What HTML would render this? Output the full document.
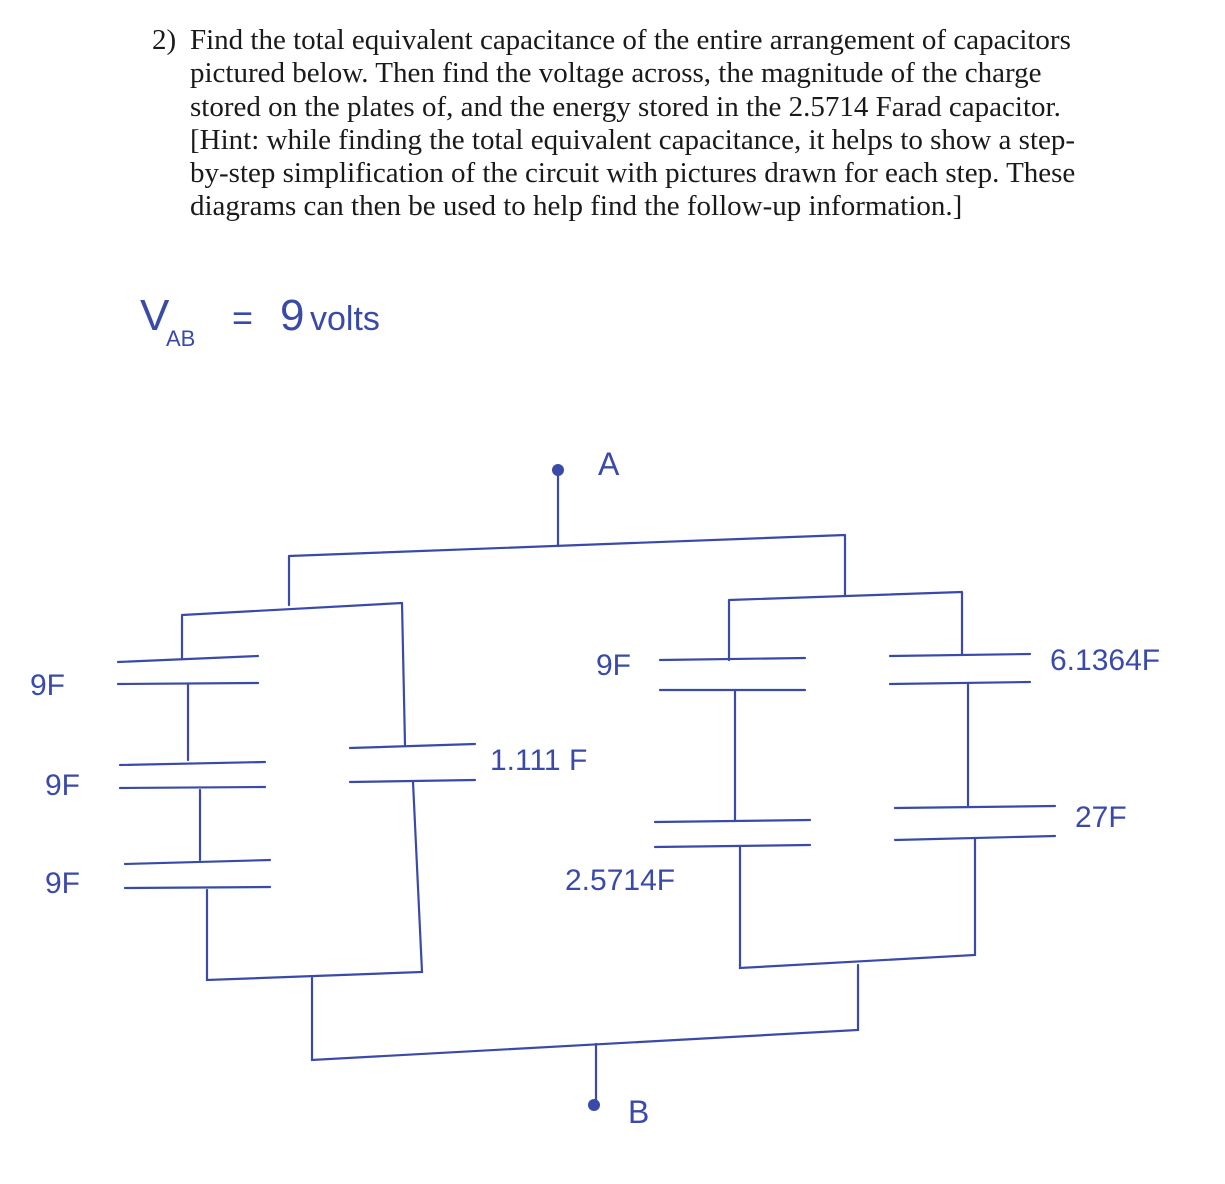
<!DOCTYPE html>
<html><head><meta charset="utf-8"><style>
html,body{margin:0;padding:0;background:#fff;}
body{width:1225px;height:1184px;position:relative;overflow:hidden;}
.q{position:absolute;left:152px;top:24px;font-family:"Liberation Serif",serif;font-size:29px;line-height:33.3px;color:#1a1a1a;}
.q .n{position:absolute;left:0;top:0;}
.q .t{margin-left:38px;width:960px;white-space:nowrap;}
svg{position:absolute;left:0;top:0;}
svg text{font-family:"Liberation Sans",sans-serif;fill:#3a4aa8;}
</style></head><body>
<div class="q"><span class="n">2)</span><div class="t">Find the total equivalent capacitance of the entire arrangement of capacitors<br>pictured below. Then find the voltage across, the magnitude of the charge<br>stored on the plates of, and the energy stored in the 2.5714 Farad capacitor.<br>[Hint: while finding the total equivalent capacitance, it helps to show a step-<br>by-step simplification of the circuit with pictures drawn for each step. These<br>diagrams can then be used to help find the follow-up information.]</div></div>
<svg width="1225" height="1184" viewBox="0 0 1225 1184">
<g stroke="#3a4aa8" stroke-width="2.2" fill="none" stroke-linecap="round">
<path d="M558 470 L558 546"/>
<path d="M289 556 L845 535 M289 556 L289 605 M845 535 L845 595"/>
<path d="M182 615 L402 603 M182 615 L182 658 M402 603 L405 745"/>
<path d="M118 662 L258 656 M118 684 L258 683"/>
<path d="M188 684 L188 760"/>
<path d="M120 765 L265 762 M120 788 L265 787"/>
<path d="M200 790 L200 860"/>
<path d="M125 864 L270 860 M125 888 L270 887"/>
<path d="M207 890 L207 980 L422 972 L413 782"/>
<path d="M350 748 L475 744 M350 782 L475 780"/>
<path d="M729 600 L962 592 M729 600 L729 660 M962 592 L962 655"/>
<path d="M660 660 L805 658 M660 690 L805 690"/>
<path d="M735 690 L735 820"/>
<path d="M655 822 L810 820 M655 847 L810 845"/>
<path d="M740 847 L740 968 L975 955 L975 838"/>
<path d="M890 656 L1030 654 M890 684 L1030 682"/>
<path d="M968 684 L968 807"/>
<path d="M895 808 L1055 806 M895 840 L1055 836"/>
<path d="M312 978 L312 1060 L858 1030 L858 965"/>
<path d="M596 1044 L596 1102"/>
</g>
<circle cx="558" cy="470" r="6" fill="#3a4aa8"/>
<circle cx="594" cy="1105" r="6" fill="#3a4aa8"/>
<text x="598" y="475" font-size="32">A</text>
<text x="628" y="1123" font-size="32">B</text>
<text x="140" y="330" font-size="44">V</text>
<text x="166" y="346" font-size="22">AB</text>
<text x="232" y="330" font-size="36">=</text>
<text x="280" y="330" font-size="44">9</text>
<text x="310" y="330" font-size="34">volts</text>
<text x="30" y="695" font-size="30">9F</text>
<text x="45" y="795" font-size="30">9F</text>
<text x="45" y="893" font-size="30">9F</text>
<text x="490" y="770" font-size="30">1.111 F</text>
<text x="596" y="675" font-size="30">9F</text>
<text x="565" y="890" font-size="30">2.5714F</text>
<text x="1050" y="670" font-size="30">6.1364F</text>
<text x="1075" y="827" font-size="30">27F</text>
</svg>
</body></html>
